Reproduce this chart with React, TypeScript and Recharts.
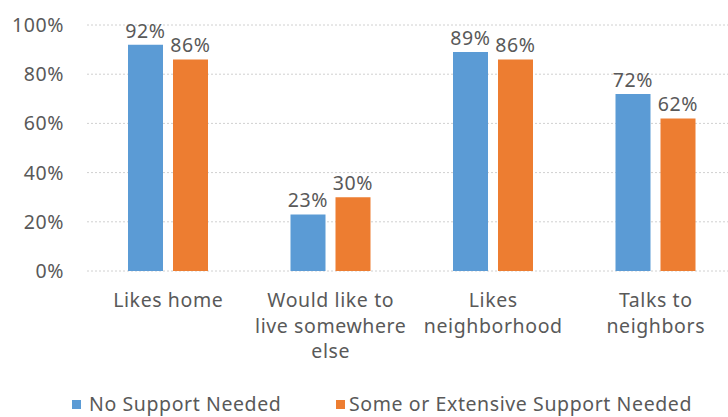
import React from "react";
import { BarChart, Bar, XAxis, YAxis, CartesianGrid, Legend, LabelList } from "recharts";

const categories = ["Likes home", "Would like to\nlive somewhere\nelse", "Likes\nneighborhood", "Talks to\nneighbors"];
const noSupport = [0.92, 0.23, 0.89, 0.72];
const someSupport = [0.86, 0.30, 0.86, 0.62];
const yTicks = [0, 0.2, 0.4, 0.6, 0.8, 1.0];
const seriesNames = ["No Support Needed", "Some or Extensive Support Needed"];
const seriesColors = ["#5B9BD5", "#ED7D31"];

const data = categories.map((c, i) => ({ name: c, a: noSupport[i], b: someSupport[i] }));

const FONT = "'Noto Sans', sans-serif";
const TEXT = "#595959";
const FS = 19.5;
const LS = 0.6;

const pct = (v: number) => `${Math.round(v * 100)}%`;

const CatTick = (props: any) => {
  const { x, y, payload } = props;
  const lines = String(payload.value).split("\n");
  return (
    <text x={x} y={y + 28} textAnchor="middle" fill={TEXT} fontSize={FS} fontFamily={FONT} letterSpacing={LS}>
      {lines.map((l, i) => (
        <tspan key={i} x={x} dy={i === 0 ? 0 : 25.5}>{l}</tspan>
      ))}
    </text>
  );
};

const LegendContent = () => (
  <div style={{ position: "relative", height: 30, fontFamily: FONT, fontSize: FS, letterSpacing: LS, color: TEXT, lineHeight: "20px" }}>
    {seriesNames.map((n, i) => (
      <div key={n} style={{ position: "absolute", left: i === 0 ? 72 : 336, top: 7, height: 20, display: "flex", alignItems: "center", whiteSpace: "nowrap" }}>
        <span style={{ display: "inline-block", width: 9, height: 9, background: seriesColors[i], marginRight: i === 0 ? 8 : 4 }} />
        <span>{n}</span>
      </div>
    ))}
  </div>
);

export default function App() {
  return (
    <div style={{ position: "absolute", left: 0, top: 0, width: 728, height: 417, overflow: "hidden", background: "#fff" }}>
      <BarChart width={737} height={417} data={data} margin={{ top: 25, right: 0, bottom: 0, left: 0 }} barGap={10} barSize={35}>
        <CartesianGrid vertical={false} stroke="#D0D0D0" strokeDasharray="2 2" />
        <YAxis domain={[0, 1]} ticks={yTicks} tickFormatter={pct} width={87} axisLine={false} tickLine={false} tickSize={0} tickMargin={23} tick={{ fill: TEXT, fontSize: FS, fontFamily: FONT, letterSpacing: LS }} interval={0} />
        <XAxis dataKey="name" axisLine={false} tickLine={false} height={116} interval={0} tick={<CatTick />} />
        <Legend verticalAlign="bottom" height={30} content={<LegendContent />} wrapperStyle={{ left: 0, width: 728 }} />
        <Bar dataKey="a" name={seriesNames[0]} fill={seriesColors[0]} isAnimationActive={false}>
          <LabelList dataKey="a" position="top" offset={7} formatter={pct} fill={TEXT} fontSize={FS} fontFamily={FONT} letterSpacing={LS} />
        </Bar>
        <Bar dataKey="b" name={seriesNames[1]} fill={seriesColors[1]} isAnimationActive={false}>
          <LabelList dataKey="b" position="top" offset={7} formatter={pct} fill={TEXT} fontSize={FS} fontFamily={FONT} letterSpacing={LS} />
        </Bar>
      </BarChart>
    </div>
  );
}
